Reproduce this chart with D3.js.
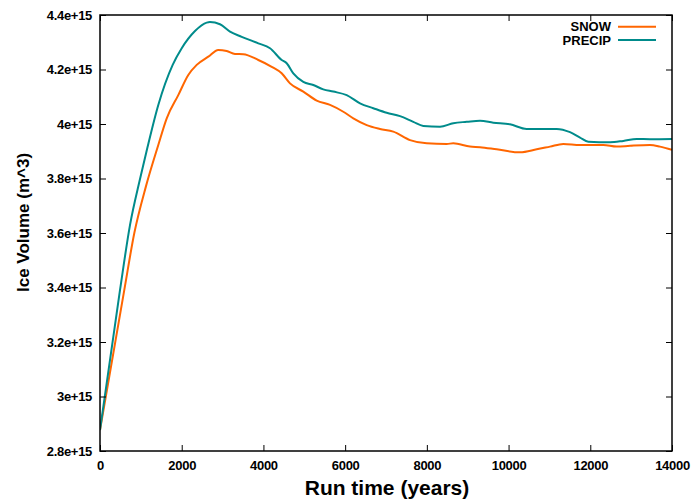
<!DOCTYPE html>
<html>
<head>
<meta charset="utf-8">
<script src="https://cdn.jsdelivr.net/npm/d3@7"></script>
<style>
html,body{margin:0;padding:0;background:#fff;}
svg{display:block;font-family:"Liberation Sans",Arial,sans-serif;font-weight:bold;}
</style>
</head>
<body>
<svg id="chart" width="695" height="500"></svg>
<script>
// Years (x) and ice volume in units of 1e15 m^3
const snowYears = [0,595,840,1126,1427,1633,1916,2161,2367,2651,2895,3101,3304,3507,3875,4203,4447,4650,4976,5304,5630,5955,6200,6528,6853,7179,7588,7996,8486,8647,9056,9301,9709,10280,10689,11014,11340,11749,12319,12646,12972,13461,13706,14000];
const snowVol = [2.877,3.391,3.600,3.772,3.923,4.021,4.106,4.180,4.217,4.247,4.272,4.268,4.257,4.256,4.235,4.210,4.186,4.149,4.119,4.086,4.070,4.045,4.021,3.996,3.982,3.972,3.941,3.929,3.927,3.929,3.917,3.915,3.907,3.896,3.907,3.917,3.927,3.923,3.923,3.917,3.920,3.923,3.917,3.905];
const precipYears = [0,490,734,979,1158,1427,1779,2000,2325,2612,2692,2937,3182,3468,3875,4161,4447,4570,4731,4976,5221,5465,5710,6038,6364,6689,7017,7343,7668,7913,8322,8647,8975,9301,9626,10035,10444,10769,11178,11504,11749,11952,12483,12808,13136,13461,14000];
const precipVol = [2.877,3.391,3.629,3.798,3.912,4.070,4.217,4.278,4.341,4.372,4.374,4.366,4.339,4.320,4.296,4.278,4.235,4.223,4.186,4.155,4.143,4.127,4.119,4.106,4.076,4.058,4.041,4.029,4.008,3.993,3.990,4.003,4.008,4.012,4.005,3.999,3.982,3.982,3.982,3.970,3.950,3.935,3.933,3.938,3.945,3.944,3.945];
const seriesNames = ["SNOW","PRECIP"];
const seriesColors = ["#ff6600","#008b8b"];
const xTicks = [0,2000,4000,6000,8000,10000,12000,14000];
const yTicks = [2.8,3.0,3.2,3.4,3.6,3.8,4.0,4.2,4.4];
const yTickLabels = ["2.8e+15","3e+15","3.2e+15","3.4e+15","3.6e+15","3.8e+15","4e+15","4.2e+15","4.4e+15"];

const svg = d3.select("#chart");
const L = 100, R = 672, T = 15, B = 451;
const x = d3.scaleLinear().domain([0,14000]).range([L,R]);
const y = d3.scaleLinear().domain([2.8,4.4]).range([B,T]);

// lines
const line = d3.line().x(d=>x(d[0])).y(d=>y(d[1])).curve(d3.curveMonotoneX);
const series = [
  snowYears.map((v,i)=>[v,snowVol[i]]),
  precipYears.map((v,i)=>[v,precipVol[i]])
];
svg.append("clipPath").attr("id","c").append("rect")
  .attr("x",L).attr("y",T).attr("width",R-L).attr("height",B-T);
const g = svg.append("g").attr("clip-path","url(#c)");
series.forEach((s,i)=>{
  g.append("path").attr("d",line(s)).attr("fill","none")
   .attr("stroke",seriesColors[i]).attr("stroke-width",2);
});

// axes with inward ticks, mirrored
const tickLen = 6;
const axB = svg.append("g").attr("transform",`translate(0,${B})`)
  .call(d3.axisBottom(x).tickValues(xTicks).tickSizeInner(-tickLen).tickSizeOuter(0).tickPadding(10).tickFormat(d3.format("d")));
const axT = svg.append("g").attr("transform",`translate(0,${T})`)
  .call(d3.axisTop(x).tickValues(xTicks).tickSizeInner(-tickLen).tickSizeOuter(0).tickFormat(""));
const axL = svg.append("g").attr("transform",`translate(${L},0)`)
  .call(d3.axisLeft(y).tickValues(yTicks).tickSizeInner(-tickLen).tickSizeOuter(0).tickPadding(8).tickFormat((d,i)=>yTickLabels[i]));
const axR = svg.append("g").attr("transform",`translate(${R},0)`)
  .call(d3.axisRight(y).tickValues(yTicks).tickSizeInner(-tickLen).tickSizeOuter(0).tickFormat(""));
[axB,axT,axL,axR].forEach(a=>{
  a.select(".domain").remove();
  a.selectAll("line").attr("stroke","#000").attr("stroke-width",1);
  a.selectAll("text").attr("font-family","Liberation Sans, Arial, sans-serif")
   .attr("font-weight","bold").attr("font-size",13).attr("fill","#000").attr("letter-spacing",-0.3);
});
axB.selectAll("text").attr("dy","0.71em");
svg.append("rect").attr("x",L).attr("y",T).attr("width",R-L).attr("height",B-T)
  .attr("fill","none").attr("stroke","#000").attr("stroke-width",1.5);

// titles
svg.append("text").attr("x",387).attr("y",495).attr("text-anchor","middle")
  .attr("font-size",21).text("Run time (years)");
svg.append("text").attr("transform",`translate(29,292) rotate(-90)`).attr("text-anchor","start")
  .attr("font-size",17).text("Ice Volume (m^3)");

// legend
seriesNames.forEach((n,i)=>{
  const ly = 26.7 + i*13.4;
  svg.append("text").attr("x",611).attr("y",ly).attr("dy","0.35em").attr("text-anchor","end")
    .attr("font-size",13).text(n);
  svg.append("line").attr("x1",618).attr("x2",656).attr("y1",ly).attr("y2",ly)
    .attr("stroke",seriesColors[i]).attr("stroke-width",2);
});
</script>
</body>
</html>
